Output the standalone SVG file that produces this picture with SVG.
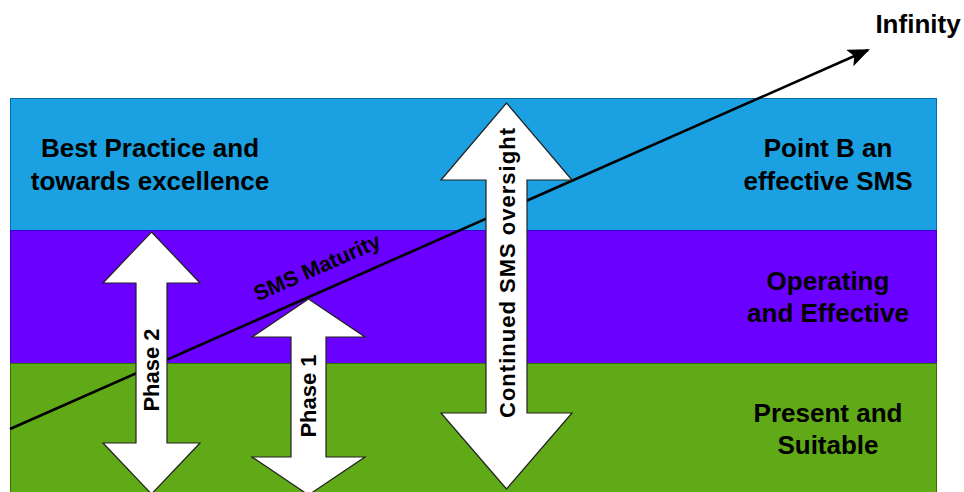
<svg xmlns="http://www.w3.org/2000/svg" width="964" height="492" viewBox="0 0 964 492">
  <style>
    .lbl { font-family: "Liberation Sans", Arial, sans-serif; font-weight: bold; fill: #000; }
    .big { font-size: 26px; text-anchor: middle; }
    .vert { font-size: 22px; text-anchor: middle; }
    .band-blue { fill: #1ba1e2; stroke: #006eaf; stroke-width: 1; }
    .band-violet { fill: #6a00ff; stroke: #3700cc; stroke-width: 1; }
    .band-green { fill: #60a917; stroke: #2d7600; stroke-width: 1; }
    .dbl { fill: #fff; stroke: #222; stroke-width: 1.2; }
  </style>
  <defs>
    <marker id="headBig" markerWidth="22" markerHeight="18" refX="20" refY="9" orient="auto" markerUnits="userSpaceOnUse" viewBox="0 0 22 18">
      <path d="M0,0 L22,9 L0,18 L5,9 Z" fill="#000"/>
    </marker>
  </defs>

  <rect width="964" height="492" fill="#fff"/>

  <!-- maturity bands -->
  <g id="band-best-practice">
    <rect class="band-blue" x="10.5" y="98.5" width="926" height="132"/>
    <text class="lbl big" x="150" y="157">Best Practice and</text>
    <text class="lbl big" x="150" y="190">towards excellence</text>
    <text class="lbl big" x="828" y="157">Point B an</text>
    <text class="lbl big" x="828" y="190">effective SMS</text>
  </g>
  <g id="band-operating">
    <rect class="band-violet" x="10.5" y="230.5" width="926" height="133"/>
    <text class="lbl big" x="828" y="290">Operating</text>
    <text class="lbl big" x="828" y="322">and Effective</text>
  </g>
  <g id="band-present">
    <rect class="band-green" x="10.5" y="363.5" width="926" height="140"/>
    <text class="lbl big" x="828" y="422">Present and</text>
    <text class="lbl big" x="828" y="454">Suitable</text>
  </g>

  <!-- maturity trend line -->
  <g id="connectors">
    <line x1="10" y1="429" x2="868" y2="50" stroke="#000" stroke-width="2.6" marker-end="url(#headBig)"/>
    <text class="lbl" font-size="21.5" text-anchor="middle" transform="translate(320,274) rotate(-23.8)">SMS Maturity</text>
  </g>

  <!-- phase arrows -->
  <g id="phase-2">
    <polygon class="dbl" points="151.5,232 200,283 167,283 167,443 200,443 151.5,494 103,443 136,443 136,283 103,283"/>
    <text class="lbl vert" transform="translate(159,370) rotate(-90)">Phase 2</text>
  </g>
  <g id="phase-1">
    <polygon class="dbl" points="308.5,299 365,337 326,337 326,457 365,457 308.5,495 252,457 291,457 291,337 252,337"/>
    <text class="lbl vert" transform="translate(316,396) rotate(-90)">Phase 1</text>
  </g>
  <g id="continued-oversight">
    <polygon class="dbl" points="506.5,103 572,180 527,180 527,413 572,413 506.5,489 441,413 486,413 486,180 441,180"/>
    <text class="lbl vert" transform="translate(514.5,273) rotate(-90)" textLength="290" lengthAdjust="spacing">Continued SMS  oversight</text>
  </g>

  <g id="infinity">
    <text class="lbl big" x="918" y="33">Infinity</text>
  </g>
</svg>
